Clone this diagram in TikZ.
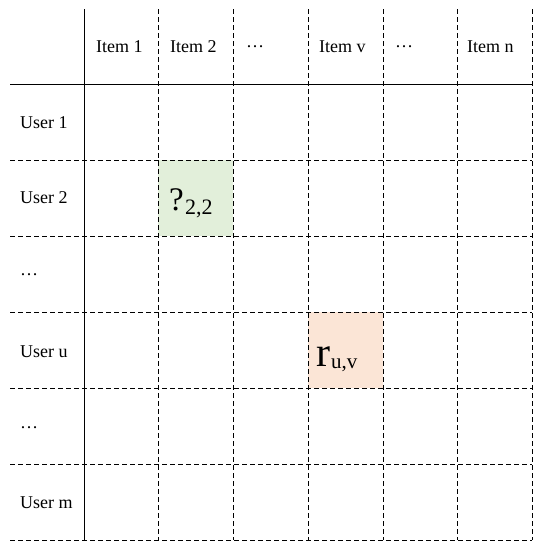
\documentclass[tikz,border=0pt]{standalone}
\usepackage{fontspec}
\setmainfont{Liberation Serif}
\tikzset{
	gridline/.style={line width=.9pt, dash pattern=on 4.5pt off 3.5pt},
	mainline/.style={line width=1pt},
	head/.style={anchor=west, inner sep=0pt, font=\fontsize{18}{20}\selectfont},
	big/.style={anchor=base west, inner sep=0pt},
}
\begin{document}
\begin{tikzpicture}[x=1pt, y=-1pt, line join=round]
	\useasboundingbox (0,0) rectangle (539,549);
	% coloured cells
	\fill[color={rgb,255:red,226;green,239;blue,218}] (158,160) rectangle (233,236);
	\fill[color={rgb,255:red,251;green,229;blue,214}] (308,312) rectangle (383,388);
	% grid
	\foreach \x in {158,233,308,383,457,532}
		\draw[gridline] (\x,9)--(\x,540);
	\foreach \y in {160,236,312,388,464,540}
		\draw[gridline] (10,\y)--(532,\y);
	\draw[mainline] (84,9)--(84,540) (10,84)--(532,84);
	% item labels
	\node[head] (item1) at (96,47) {Item 1};
	\node[head] (item2) at (170,47) {Item 2};
	\node[head] (itemdots) at (246,47) {…};
	\node[head] (itemv) at (319,47) {Item v};
	\node[head] (itemdots2) at (395,47) {…};
	\node[head] (itemn) at (467,47) {Item n};
	% user labels
	\node[head] (user1) at (20,123) {User 1};
	\node[head] (user2) at (20,198) {User 2};
	\node[head] (userdots) at (20,275) {…};
	\node[head] (useru) at (20,352) {User u};
	\node[head] (userdots2) at (20,428) {…};
	\node[head] (userm) at (20,503) {User m};
	% cell entries
	\node[big, font=\fontsize{33}{33}\selectfont] (q) at (169,210) {?};
	\node[big, font=\fontsize{22}{22}\selectfont] (qsub) at (185,214) {2,2};
	\node[big, font=\fontsize{42}{42}\selectfont] (r) at (316,366) {r};
	\node[big, font=\fontsize{21}{21}\selectfont] (rsub) at (331,368) {u,v};
\end{tikzpicture}
\end{document}
